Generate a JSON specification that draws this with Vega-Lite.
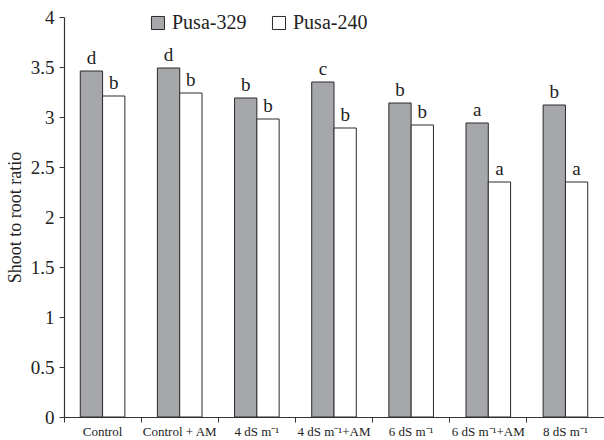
{
  "$schema": "https://vega.github.io/schema/vega-lite/v6.json",
  "autosize": {"type": "none"},
  "padding": {"left": 64, "top": 17, "right": 0, "bottom": 23},
  "width": 540,
  "height": 400,
  "background": "white",
  "config": {
    "view": {"stroke": null},
    "font": "Liberation Serif",
    "axis": {"domainColor": "#333", "tickColor": "#333", "labelColor": "#222", "titleColor": "#222", "grid": false, "labelFont": "Liberation Serif", "titleFont": "Liberation Serif", "titleFontWeight": "normal"}
  },
  "data": {
    "values": [
      {"treatment": "Control", "variety": "Pusa-329", "ratio": 3.46, "letter": "d"},
      {"treatment": "Control", "variety": "Pusa-240", "ratio": 3.21, "letter": "b"},
      {"treatment": "Control + AM", "variety": "Pusa-329", "ratio": 3.49, "letter": "d"},
      {"treatment": "Control + AM", "variety": "Pusa-240", "ratio": 3.24, "letter": "b"},
      {"treatment": "4 dS m⁻¹", "variety": "Pusa-329", "ratio": 3.19, "letter": "b"},
      {"treatment": "4 dS m⁻¹", "variety": "Pusa-240", "ratio": 2.98, "letter": "b"},
      {"treatment": "4 dS m⁻¹+AM", "variety": "Pusa-329", "ratio": 3.35, "letter": "c"},
      {"treatment": "4 dS m⁻¹+AM", "variety": "Pusa-240", "ratio": 2.89, "letter": "b"},
      {"treatment": "6 dS m⁻¹", "variety": "Pusa-329", "ratio": 3.14, "letter": "b"},
      {"treatment": "6 dS m⁻¹", "variety": "Pusa-240", "ratio": 2.92, "letter": "b"},
      {"treatment": "6 dS m⁻¹+AM", "variety": "Pusa-329", "ratio": 2.94, "letter": "a"},
      {"treatment": "6 dS m⁻¹+AM", "variety": "Pusa-240", "ratio": 2.35, "letter": "a"},
      {"treatment": "8 dS m⁻¹", "variety": "Pusa-329", "ratio": 3.12, "letter": "b"},
      {"treatment": "8 dS m⁻¹", "variety": "Pusa-240", "ratio": 2.35, "letter": "a"}
    ]
  },
  "encoding": {
    "x": {
      "field": "treatment", "type": "nominal",
      "sort": ["Control", "Control + AM", "4 dS m⁻¹", "4 dS m⁻¹+AM", "6 dS m⁻¹", "6 dS m⁻¹+AM", "8 dS m⁻¹"],
      "scale": {"paddingInner": 0, "paddingOuter": 0},
      "axis": {"title": null, "labelAngle": 0, "labelFont": "Liberation Serif", "labelFontSize": 13, "labelPadding": 3, "tickSize": 5, "bandPosition": 0, "domainWidth": 1.2}
    },
    "xOffset": {"field": "variety", "type": "nominal", "sort": ["Pusa-329", "Pusa-240"], "scale": {"paddingInner": 0, "paddingOuter": 0.73}},
    "y": {
      "field": "ratio", "type": "quantitative",
      "scale": {"domain": [0, 4], "nice": false},
      "axis": {"values": [0, 0.5, 1, 1.5, 2, 2.5, 3, 3.5, 4], "format": "~g", "labelFont": "Liberation Serif", "labelFontSize": 19, "tickSize": 5, "labelPadding": 5, "title": "Shoot to root ratio", "titleFont": "Liberation Serif", "titleFontSize": 18, "titlePadding": 6, "domainWidth": 1.2}
    }
  },
  "layer": [
    {
      "mark": {"type": "bar", "stroke": "#2a2a2a", "strokeWidth": 1},
      "encoding": {
        "fill": {
          "field": "variety", "type": "nominal",
          "sort": ["Pusa-329", "Pusa-240"],
          "scale": {"domain": ["Pusa-329", "Pusa-240"], "range": ["#a6a7aa", "#ffffff"]},
          "legend": {
            "title": null, "orient": "none", "direction": "horizontal",
            "legendX": 84, "legendY": -4,
            "symbolType": "square", "symbolSize": 170, "symbolStrokeColor": "#2a2a2a", "symbolStrokeWidth": 1,
            "labelFontSize": 20, "labelFont": "Liberation Serif", "labelColor": "#222", "labelOffset": 4, "columnPadding": 22
          }
        }
      }
    },
    {
      "mark": {"type": "text", "baseline": "bottom", "dy": -3, "fontSize": 19, "font": "Liberation Serif", "color": "#222"},
      "encoding": {"text": {"field": "letter"}}
    }
  ]
}
